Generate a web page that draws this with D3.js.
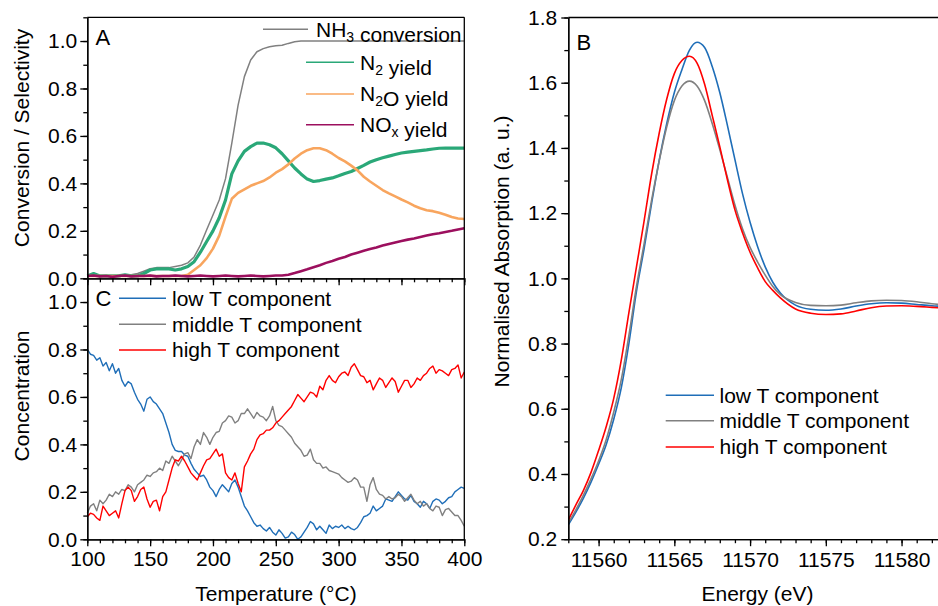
<!DOCTYPE html>
<html>
<head>
<meta charset="utf-8">
<script src="https://cdn.jsdelivr.net/npm/d3@7"></script>
<style>
  body { margin: 0; background: #fff; }
  svg { display: block; font-family: "Liberation Sans", Arial, sans-serif; }
  .axis path, .axis line { stroke: #000; stroke-width: 1.3; }
  .axis text { font-size: 21px; fill: #000; font-family: "Liberation Sans", Arial, sans-serif; }
</style>
</head>
<body>
<svg id="chart" width="938" height="606"></svg>
<script>
// ---- panel A : conversion / yields, every 5 degC
var tempsA = d3.range(100, 401, 5);
var nh3Conv = [0.01,0.01,0.01,0.01,0.01,0.01,0.01,0.015,
  0.02,0.03,0.04,0.045,0.045,0.045,0.05,0.055,0.065,0.09,0.14,0.205,0.267,0.33,0.42,0.57,0.73,0.85,0.92,0.955,0.968,0.976,0.98,0.982,0.99,0.997,
  1,1,1,1,1,1,1,1,1,1,1,1,1,1,1,1,1,1,1,1,1,1,1,1,1,1,1];
var n2Yield = [0.01,0.02,0.01,0.01,0.01,0.01,0.015,0.01,0.01,0.02,
  0.035,0.04,0.04,0.04,0.035,0.04,0.05,0.07,0.11,0.155,
  0.2,0.255,0.33,0.44,0.495,0.535,0.555,0.57,0.57,0.563,
  0.55,0.525,0.495,0.465,0.44,0.418,0.408,0.412,0.418,0.423,
  0.432,0.442,0.45,0.463,0.476,0.49,0.5,0.508,0.515,0.522,
  0.528,0.532,0.535,0.538,0.541,0.545,0.548,0.549,0.549,0.549,
  0.549];
var n2oYield = [0.01,0.01,0.01,0.01,0.01,0.01,0.01,0.01,0.01,0.01,0.01,0.01,0.01,0.01,0.01,0.01,0.015,
  0.035,0.055,0.085,0.125,0.18,0.26,0.335,0.36,0.375,0.39,
  0.4,0.41,0.425,0.445,0.46,0.48,0.505,0.525,0.54,0.548,
  0.548,0.54,0.525,0.507,0.493,0.475,0.455,0.428,0.408,0.39,
  0.372,0.358,0.345,0.332,0.32,0.306,0.295,0.287,0.283,0.276,
  0.268,0.258,0.252,0.25];
var noxYield = [0.01,0.012,0.008,0.01,0.006,0.01,0.012,0.008,0.01,0.01,
  0.012,0.008,0.01,0.01,0.012,0.01,0.008,0.01,0.012,0.01,
  0.008,0.01,0.012,0.01,0.008,0.01,0.012,0.01,0.008,0.01,0.012,
  0.012,0.015,0.022,0.03,0.038,0.047,0.055,0.065,0.073,0.082,
  0.09,0.1,0.108,0.116,0.123,0.13,0.138,0.145,0.151,0.157,
  0.163,0.168,0.174,0.18,0.186,0.19,0.195,0.2,0.206,0.211];

// ---- panel C : component concentrations, every 2.5 degC
var tempsC = d3.range(100, 400.1, 2.5);
var lowT = [0.80,0.78,0.775,0.755,0.765,0.73,0.745,0.71,0.74,0.70,
  0.72,0.67,0.645,0.665,0.655,0.62,0.59,0.57,0.54,0.59,
  0.60,0.58,0.57,0.55,0.53,0.49,0.45,0.40,0.375,0.37,
  0.37,0.355,0.35,0.32,0.295,0.28,0.265,0.27,0.25,0.22,
  0.205,0.18,0.21,0.23,0.215,0.20,0.235,0.25,0.22,0.18,
  0.14,0.12,0.095,0.07,0.055,0.06,0.045,0.035,0.05,0.03,
  0.018,0.04,0.025,0.005,0.01,0.03,0.02,0.0,0.01,0.03,
  0.05,0.075,0.065,0.04,0.055,0.04,0.025,0.06,0.045,0.055,
  0.05,0.06,0.045,0.055,0.045,0.04,0.05,0.07,0.095,0.10,
  0.11,0.14,0.12,0.13,0.14,0.17,0.165,0.16,0.18,0.20,
  0.185,0.17,0.165,0.185,0.16,0.15,0.135,0.16,0.15,0.13,
  0.16,0.17,0.165,0.15,0.16,0.175,0.18,0.20,0.21,0.22,
  0.215];
var midT = [0.11,0.14,0.15,0.12,0.165,0.15,0.165,0.19,0.18,0.20,
  0.19,0.21,0.205,0.23,0.22,0.20,0.23,0.24,0.25,0.27,
  0.265,0.28,0.285,0.30,0.29,0.33,0.32,0.35,0.33,0.31,
  0.335,0.36,0.365,0.34,0.39,0.42,0.40,0.45,0.43,0.40,
  0.43,0.45,0.455,0.49,0.50,0.52,0.515,0.49,0.50,0.53,
  0.53,0.55,0.53,0.51,0.535,0.52,0.515,0.50,0.52,0.56,
  0.50,0.48,0.475,0.46,0.445,0.43,0.405,0.39,0.375,0.35,
  0.355,0.38,0.335,0.32,0.32,0.30,0.305,0.29,0.285,0.28,
  0.275,0.26,0.25,0.24,0.245,0.26,0.25,0.22,0.22,0.16,
  0.23,0.26,0.21,0.19,0.185,0.17,0.18,0.17,0.175,0.19,
  0.18,0.16,0.175,0.19,0.165,0.15,0.16,0.14,0.15,0.13,
  0.12,0.14,0.135,0.10,0.125,0.13,0.115,0.10,0.10,0.08,
  0.055];
var highT = [0.095,0.11,0.105,0.09,0.08,0.14,0.12,0.10,0.11,0.12,
  0.09,0.15,0.205,0.22,0.205,0.16,0.18,0.21,0.22,0.17,
  0.135,0.16,0.165,0.12,0.18,0.20,0.25,0.30,0.335,0.33,
  0.35,0.33,0.305,0.28,0.265,0.25,0.28,0.31,0.335,0.34,
  0.36,0.38,0.35,0.36,0.28,0.26,0.25,0.28,0.235,0.20,
  0.305,0.33,0.36,0.38,0.42,0.44,0.445,0.46,0.46,0.47,
  0.49,0.50,0.515,0.53,0.545,0.56,0.585,0.61,0.595,0.58,
  0.60,0.62,0.615,0.60,0.645,0.63,0.67,0.69,0.67,0.66,
  0.685,0.70,0.705,0.69,0.725,0.74,0.715,0.69,0.685,0.66,
  0.67,0.63,0.655,0.68,0.67,0.64,0.66,0.68,0.665,0.62,
  0.645,0.67,0.67,0.64,0.655,0.68,0.67,0.69,0.70,0.72,
  0.73,0.70,0.715,0.71,0.70,0.69,0.715,0.72,0.735,0.68,
  0.705];

// ---- panel B : XANES spectra of the components
var energy = [11558,11558.5,11559,11559.5,11560,11560.5,11561,11561.5,11562,11562.5,
  11563,11563.5,11564,11564.5,11565,11565.5,11566,11566.5,11567,11567.5,
  11568,11568.5,11569,11569.5,11570,11570.5,11571,11571.5,11572,
  11573,11574,11575,11576,11577,11578,11579,11580,11581,11582,11583];
var absLow = [0.244,0.283,0.326,0.375,0.43,0.49,0.568,0.665,0.8,0.96,
  1.09,1.23,1.362,1.475,1.57,1.64,1.7,1.724,1.708,1.65,
  1.57,1.47,1.364,1.26,1.172,1.097,1.035,0.988,0.955,
  0.918,0.905,0.902,0.906,0.915,0.922,0.925,0.924,0.92,0.916,0.913];
var absMid = [0.25,0.29,0.335,0.385,0.44,0.505,0.59,0.69,0.825,0.975,
  1.105,1.24,1.36,1.465,1.545,1.59,1.605,1.59,1.545,1.475,
  1.395,1.31,1.225,1.152,1.095,1.05,1.01,0.975,0.95,
  0.926,0.917,0.916,0.918,0.925,0.931,0.933,0.932,0.928,0.922,0.918];
var absHigh = [0.259,0.305,0.35,0.405,0.472,0.545,0.632,0.75,0.895,1.035,
  1.175,1.32,1.445,1.55,1.628,1.668,1.681,1.66,1.595,1.5,
  1.404,1.303,1.21,1.14,1.08,1.032,0.99,0.963,0.94,
  0.906,0.893,0.889,0.891,0.9,0.91,0.915,0.916,0.914,0.911,0.908];

var tempTicks = [100, 150, 200, 250, 300, 350, 400];
var fracTicks = [0, 0.2, 0.4, 0.6, 0.8, 1.0];
var energyTicks = [11560, 11565, 11570, 11575, 11580];
var absTicks = [0.2, 0.4, 0.6, 0.8, 1.0, 1.2, 1.4, 1.6, 1.8];

var svg = d3.select("#chart");

var xA = d3.scaleLinear().domain([100, 400]).range([87.3, 464.3]);
var yA = d3.scaleLinear().domain([0, 1.1]).range([278.3, 17.3]);
var yC = d3.scaleLinear().domain([0, 1.1]).range([539.3, 278.3]);
var xB = d3.scaleLinear().domain([11558, 11583]).range([568.3, 947]);
var yB = d3.scaleLinear().domain([0.2, 1.8]).range([539.2, 17.5]);

svg.append("clipPath").attr("id", "clipB")
  .append("rect").attr("x", 568.3).attr("y", 17.5).attr("width", 380).attr("height", 522);

function drawSeries(g, xs, ys, x, y, color, width, curve) {
  var line = d3.line()
    .x(function (d, i) { return x(xs[i]); })
    .y(function (d) { return y(d); })
    .curve(curve || d3.curveLinear);
  g.append("path")
    .datum(ys)
    .attr("d", line)
    .attr("fill", "none")
    .attr("stroke", color)
    .attr("stroke-width", width)
    .attr("stroke-linejoin", "round");
}

function minor(scale, step, lo, hi) {
  var v = [];
  for (var t = lo; t <= hi + 1e-9; t += step) v.push(+t.toFixed(4));
  return v;
}

function fmt1(d) { return d3.format(".1f")(d); }

// ---------------- panel A  (noisy traces -> drawn a bit heavier)
var gA = svg.append("g");
drawSeries(gA, tempsA, nh3Conv, xA, yA, "#808080", 1.5);
drawSeries(gA, tempsA, n2Yield, xA, yA, "#2aa878", 3.2);
drawSeries(gA, tempsA, n2oYield, xA, yA, "#f8a55e", 2.6);
drawSeries(gA, tempsA, noxYield, xA, yA, "#9c0f5e", 2.6);

// ---------------- panel C
var gC = svg.append("g");
drawSeries(gC, tempsC, lowT, xA, yC, "#1f6eb8", 1.4);
drawSeries(gC, tempsC, midT, xA, yC, "#808080", 1.4);
drawSeries(gC, tempsC, highT, xA, yC, "#ff0000", 1.4);

// ---------------- panel B
var gB = svg.append("g").attr("clip-path", "url(#clipB)");
drawSeries(gB, energy, absLow, xB, yB, "#1f6eb8", 1.6, d3.curveMonotoneX);
drawSeries(gB, energy, absMid, xB, yB, "#808080", 1.6, d3.curveMonotoneX);
drawSeries(gB, energy, absHigh, xB, yB, "#ff0000", 1.6, d3.curveMonotoneX);

// ---------------- axes
function addAxis(axis, tx, ty) {
  return svg.append("g").attr("class", "axis")
    .attr("transform", "translate(" + tx + "," + ty + ")")
    .call(axis);
}

// A
addAxis(d3.axisLeft(yA).tickValues(minor(yA, 0.1, 0, 1.1)).tickSize(4).tickFormat("").tickSizeOuter(0), 87.3, 0);
addAxis(d3.axisLeft(yA).tickValues(fracTicks).tickSize(7).tickPadding(3).tickFormat(fmt1).tickSizeOuter(0), 87.3, 0);
addAxis(d3.axisBottom(xA).tickValues(minor(xA, 10, 100, 400)).tickSize(4).tickFormat("").tickSizeOuter(0), 0, 278.3);
addAxis(d3.axisBottom(xA).tickValues(tempTicks).tickSize(7).tickFormat("").tickSizeOuter(0), 0, 278.3);

// C
addAxis(d3.axisLeft(yC).tickValues(minor(yC, 0.1, 0, 1.1)).tickSize(4).tickFormat("").tickSizeOuter(0), 87.3, 0);
addAxis(d3.axisLeft(yC).tickValues(fracTicks).tickSize(7).tickPadding(3).tickFormat(fmt1).tickSizeOuter(0), 87.3, 0);
addAxis(d3.axisBottom(xA).tickValues(minor(xA, 10, 100, 400)).tickSize(4).tickFormat("").tickSizeOuter(0), 0, 539.3);
addAxis(d3.axisBottom(xA).tickValues(tempTicks).tickSize(7).tickPadding(5).tickFormat(d3.format("d")).tickSizeOuter(0), 0, 539.3);

// B
addAxis(d3.axisLeft(yB).tickValues(minor(yB, 0.1, 0.2, 1.8)).tickSize(4).tickFormat("").tickSizeOuter(0), 568.3, 0);
addAxis(d3.axisLeft(yB).tickValues(absTicks).tickSize(7).tickPadding(4).tickFormat(fmt1).tickSizeOuter(0), 568.3, 0);
addAxis(d3.axisBottom(xB).tickValues(minor(xB, 1, 11558, 11582)).tickSize(4).tickFormat("").tickSizeOuter(0), 0, 539.2);
addAxis(d3.axisBottom(xB).tickValues(energyTicks).tickSize(7).tickPadding(6).tickFormat(d3.format("d")).tickSizeOuter(0), 0, 539.2);

// frame lines (top / right)
var frame = svg.append("g").attr("stroke", "#000").attr("stroke-width", 1.3);
frame.append("line").attr("x1", xA(100)).attr("x2", xA(400)).attr("y1", yA(1.1)).attr("y2", yA(1.1));
frame.append("line").attr("x1", xA(400)).attr("x2", xA(400)).attr("y1", yA(1.1)).attr("y2", yC(0));
frame.append("line").attr("x1", xB.range()[0]).attr("x2", 938).attr("y1", yB(1.8)).attr("y2", yB(1.8));

// ---------------- titles
function text(x, y, str, size, anchor, rotate) {
  var t = svg.append("text")
    .attr("font-size", size)
    .attr("text-anchor", anchor || "start")
    .attr("fill", "#000");
  if (rotate) t.attr("transform", "translate(" + x + "," + y + ") rotate(-90)");
  else t.attr("x", x).attr("y", y);
  t.text(str);
  return t;
}

text(28.5, 138, "Conversion / Selectivity", 21, "middle", true);
text(28.5, 396, "Concentration", 21, "middle", true);
text(509, 251.5, "Normalised Absorption (a. u.)", 21, "middle", true);
text(276, 601, "Temperature (\u00b0C)", 21, "middle");
text(757.5, 601, "Energy (eV)", 21, "middle");

text(95.5, 45, "A", 22);
text(576.5, 50, "B", 22);
text(95.5, 306, "C", 22);

// ---------------- legends
function legendItem(x1, x2, y, tx, color, parts) {
  svg.append("line").attr("x1", x1).attr("x2", x2).attr("y1", y).attr("y2", y)
    .attr("stroke", color).attr("stroke-width", 1.6);
  var t = svg.append("text").attr("x", tx).attr("y", y + 7.4).attr("font-size", 21).attr("fill", "#000");
  parts.forEach(function (p) {
    if (p.sub) {
      t.append("tspan").attr("font-size", 14).attr("dy", 5).text(p.sub);
      t.append("tspan").attr("dy", -5).text("");
    } else {
      t.append("tspan").text(p.t);
    }
  });
}

legendItem(263, 308, 29.3, 316, "#808080", [{t: "NH"}, {sub: "3"}, {t: " conversion"}]);
legendItem(306, 354, 62.3, 360, "#2aa878", [{t: "N"}, {sub: "2"}, {t: " yield"}]);
legendItem(306, 354, 94, 360, "#f8a55e", [{t: "N"}, {sub: "2"}, {t: "O yield"}]);
legendItem(306, 354, 124.7, 360, "#9c0f5e", [{t: "NO"}, {sub: "x"}, {t: " yield"}]);

legendItem(119, 166, 298.3, 172, "#1f6eb8", [{t: "low T component"}]);
legendItem(119, 166, 324.3, 172, "#808080", [{t: "middle T component"}]);
legendItem(119, 166, 350, 172, "#ff0000", [{t: "high T component"}]);

legendItem(665.7, 714, 395.3, 719.5, "#1f6eb8", [{t: "low T component"}]);
legendItem(665.7, 714, 420.7, 719.5, "#808080", [{t: "middle T component"}]);
legendItem(665.7, 714, 447, 719.5, "#ff0000", [{t: "high T component"}]);
</script>
</body>
</html>
